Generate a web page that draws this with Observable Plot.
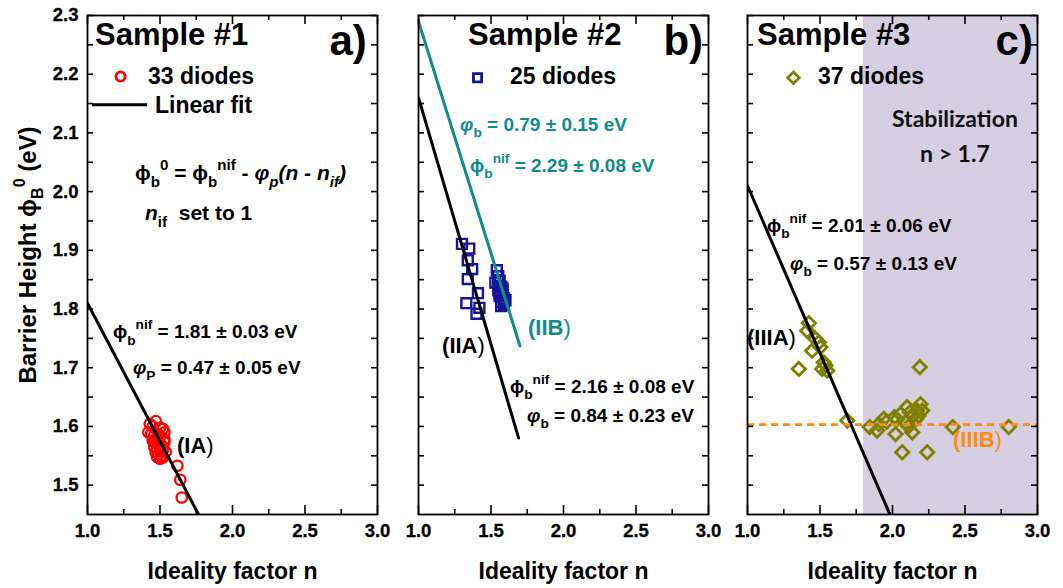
<!DOCTYPE html>
<html><head><meta charset="utf-8">
<script src="https://cdn.jsdelivr.net/npm/d3@7"></script>
<script src="https://cdn.jsdelivr.net/npm/@observablehq/plot@0.6"></script>
<style>
body{margin:0;background:#fff;}
#chart{position:relative;width:1063px;height:588px;overflow:hidden;}
#chart svg{position:absolute;left:0;top:0;overflow:visible;}
</style></head><body><div id="chart"></div>
<script>
const FONT = "'Liberation Sans', Arial, Helvetica, sans-serif";
const CAL = "Lato, 'Open Sans', sans-serif";

// ---- data ----
const xMajor = [1.0, 1.5, 2.0, 2.5, 3.0];
const xMinor = [1.25, 1.75, 2.25, 2.75];
const yMajor = [1.5, 1.6, 1.7, 1.8, 1.9, 2.0, 2.1, 2.2, 2.3];
const yMinor = [1.55, 1.65, 1.75, 1.85, 1.95, 2.05, 2.15, 2.25];
const xDomain = [1.0, 3.0];
const yDomain = [1.45, 2.3];

// Sample #1 (33 diodes)
const s1N = [1.43,1.45,1.47,1.50,1.52, 1.42,1.44,1.46,1.48,1.50, 1.53,1.45,1.47,1.49,1.51, 1.53,1.46,1.48,1.50,1.52, 1.47,1.49,1.51,1.54,1.48, 1.50,1.52,1.46,1.49,1.53, 1.62,1.64,1.65];
const s1Phi = [1.604,1.600,1.609,1.598,1.596, 1.590,1.587,1.584,1.580,1.582, 1.578,1.575,1.572,1.570,1.568, 1.573,1.565,1.562,1.558,1.560, 1.556,1.553,1.550,1.557,1.548, 1.545,1.547,1.576,1.586,1.590, 1.533,1.509,1.479];

// Sample #2 (25 diodes)
const s2N = [1.30,1.35,1.34,1.37,1.34,1.41,1.33,1.42,1.40, 1.54,1.55,1.53,1.56,1.57,1.55,1.58,1.56,1.59,1.57,1.55,1.58,1.56,1.60,1.57,1.59];
const s2Phi = [1.911,1.903,1.883,1.868,1.851,1.827,1.810,1.802,1.792, 1.866,1.856,1.845,1.848,1.838,1.832,1.828,1.822,1.818,1.812,1.840,1.835,1.826,1.815,1.805,1.808];

// Sample #3 (37 diodes)
const s3N = [1.423,1.412,1.469,1.492,1.446,1.503,1.526,1.538,1.550,1.515,1.354, 1.688,
  1.843,1.894,1.906,1.940,2.014,2.021,2.055,2.101,2.090,2.136,2.147,2.170,2.193,2.205,2.188,2.067,2.239,2.416,2.802, 2.03,2.11,2.16,2.18,1.96,2.12];
const s3Phi = [1.776,1.763,1.749,1.743,1.729,1.735,1.709,1.704,1.695,1.698,1.698, 1.610,
  1.599,1.593,1.604,1.613,1.616,1.587,1.621,1.633,1.607,1.590,1.619,1.627,1.638,1.627,1.701,1.556,1.556,1.599,1.599, 1.612,1.600,1.612,1.618,1.608,1.624];

// Linear fits  phi = phiNif - slope*(n - 1)
const fitNames   = ["IA", "IIA", "IIB", "IIIA"];
const fitPhiNif  = [1.81, 2.16, 2.29, 2.01];
const fitSlope   = [0.47, 0.84, 0.79, 0.57];
const fitNEnd    = [1.80, 1.69, 1.70, 2.00];
const plateauIIIB = 1.603;        // (IIIB) level
const stabilizationStart = 1.8;   // shaded region start

function fitLine(i) {
  return [1.0, fitNEnd[i]].map(n => ({n, phi: fitPhiNif[i] - fitSlope[i] * (n - 1)}));
}

// ---- layout ----
const W = 1063, H = 588, TOP = 15, BOTTOM = 514;
const IH = BOTTOM - TOP;
const fmt = d3.format(".1f");

function baseMarks(left, right, withY) {
  const IW = right - left;
  const m = [
    Plot.tickX(xMajor, {x: d => d, insetTop: IH - 9, strokeWidth: 1.6}),
    Plot.tickX(xMinor, {x: d => d, insetTop: IH - 5, strokeWidth: 1.6}),
    Plot.tickX(xMajor, {x: d => d, insetBottom: IH - 9, strokeWidth: 1.6}),
    Plot.tickX(xMinor, {x: d => d, insetBottom: IH - 5, strokeWidth: 1.6}),
    Plot.tickY(yMajor.concat(yMinor), {y: d => d, insetRight: IW - 6, strokeWidth: 1.6}),
    Plot.tickY(yMajor.concat(yMinor), {y: d => d, insetLeft: IW - 6, strokeWidth: 1.6}),
    Plot.text(xMajor, {x: d => d, text: d => fmt(d), frameAnchor: "bottom", dy: 9, lineAnchor: "top", fontSize: 18.5, fontWeight: "bold", fill: "black", stroke: "black", strokeWidth: 0.3}),
    Plot.text(["Ideality factor n"], {text: d => d, frameAnchor: "bottom", dy: 64, lineAnchor: "bottom", fontSize: 23, fontWeight: "bold", fill: "black"}),
    Plot.frame({stroke: "black", strokeWidth: 1.8})
  ];
  if (withY) m.push(Plot.text(yMajor, {y: d => d, text: d => fmt(d), frameAnchor: "left", dx: -9, textAnchor: "end", lineAnchor: "middle", fontSize: 18.5, fontWeight: "bold", fill: "black", stroke: "black", strokeWidth: 0.3}));
  return m;
}

function panel(left, right, marks, withY) {
  return Plot.plot({
    width: W, height: H,
    marginLeft: left, marginRight: W - right, marginTop: TOP, marginBottom: H - BOTTOM,
    x: {domain: xDomain, axis: null},
    y: {domain: yDomain, axis: null},
    style: {fontFamily: FONT, background: "transparent", overflow: "visible", color: "black"},
    marks: [...marks, ...baseMarks(left, right, withY)]
  });
}

function rich(plot, n, v, parts, opt = {}) {
  const {size = 19, color = "black", anchor = "start", family = FONT, weight = "bold"} = opt;
  const sx = plot.scale("x").apply, sy = plot.scale("y").apply;
  const t = d3.select(plot).append("text")
    .attr("x", sx(n)).attr("y", sy(v)).attr("fill", color).attr("font-size", size)
    .attr("font-family", family).attr("font-weight", weight).attr("text-anchor", anchor);
  let off = 0;
  for (const [str, kind = ""] of parts) {
    const ts = t.append("tspan").text(str);
    let target = 0;
    if (kind.includes("sub")) { target = 0.32 * size; ts.attr("font-size", 0.72 * size); }
    if (kind.includes("sup")) { target = -0.48 * size; ts.attr("font-size", 0.72 * size); }
    if (kind.includes("it")) ts.attr("font-style", "italic");
    if (kind.includes("thin")) ts.attr("font-weight", "normal");
    if (target !== off) { ts.attr("dy", target - off); off = target; }
  }
  return t;
}

const chart = document.getElementById("chart");
const RED = "#ff0000", NAVY = "#15159a", TEAL = "#0e8c8a", OLIVE = "#808000", ORANGE = "#ff8a16";

// ---- Panel a ----
const pA = panel(87, 377, [
  Plot.dot({length: s1N.length}, {x: s1N, y: s1Phi, r: 5.2, stroke: RED, strokeWidth: 2.3}),
  Plot.line(fitLine(0), {x: "n", y: "phi", stroke: "black", strokeWidth: 3, clip: true}),
  Plot.dot([{n: 1.228, phi: 2.196}], {x: "n", y: "phi", r: 4.6, stroke: RED, strokeWidth: 2.8}),
  Plot.ruleY([2.148], {x1: 1.034, x2: 1.414, strokeWidth: 3})
], true);
chart.appendChild(pA);
rich(pA, 1.055, 2.249, [["Sample #1"]], {size: 31});
rich(pA, 2.93, 2.232, [["a)"]], {size: 42, anchor: "end"});
rich(pA, 1.421, 2.182, [["33 diodes"]], {size: 23});
rich(pA, 1.469, 2.133, [["Linear fit"]], {size: 23});
rich(pA, 1.331, 2.019, [["ϕ"], ["b", "sub"], ["0", "sup"], [" = ϕ"], ["b", "sub"], ["nif", "sup"], [" - "], ["φ", "it"], ["p", "sub it"], ["(n - n", "it"], ["if", "sub it"], [")", "it"]], {size: 21});
rich(pA, 1.40, 1.950, [["n", "it"], ["if", "sub"], ["  set to 1"]], {size: 21});
rich(pA, 1.179, 1.749, [["ϕ"], ["b", "sub"], ["nif", "sup"], [" = 1.81 ± 0.03 eV"]], {size: 19});
rich(pA, 1.317, 1.688, [["φ", "it"], ["P", "sub"], [" = 0.47 ± 0.05 eV"]], {size: 19});
rich(pA, 1.621, 1.554, [["(IA"], [")", "thin"]], {size: 22});
// y-axis title
{
  const t = d3.select(pA).append("text")
    .attr("transform", "translate(36,255) rotate(-90)")
    .attr("text-anchor", "middle").attr("font-family", FONT).attr("font-weight", "bold").attr("font-size", 24).attr("fill", "black");
  t.append("tspan").text("Barrier Height ϕ");
  t.append("tspan").text("B").attr("font-size", 16).attr("dy", 7);
  t.append("tspan").text("0").attr("font-size", 16).attr("dy", -18);
  t.append("tspan").text(" (eV)").attr("dy", 11);
}

// ---- Panel b ----
const pB = panel(418, 708, [
  Plot.dot({length: s2N.length}, {x: s2N, y: s2Phi, symbol: "square", r: 5.6, stroke: NAVY, strokeWidth: 2.4}),
  Plot.line(fitLine(1), {x: "n", y: "phi", stroke: "black", strokeWidth: 3, clip: true}),
  Plot.line(fitLine(2), {x: "n", y: "phi", stroke: TEAL, strokeWidth: 3, clip: true}),
  Plot.dot([{n: 1.407, phi: 2.194}], {x: "n", y: "phi", symbol: "square", r: 4.6, stroke: NAVY, strokeWidth: 2.8})
], false);
chart.appendChild(pB);
rich(pB, 1.345, 2.249, [["Sample #2"]], {size: 31});
rich(pB, 2.966, 2.232, [["b)"]], {size: 42, anchor: "end"});
rich(pB, 1.634, 2.182, [["25 diodes"]], {size: 23});
rich(pB, 1.29, 2.102, [["φ", "it"], ["b", "sub"], [" = 0.79 ± 0.15 eV"]], {size: 19, color: TEAL});
rich(pB, 1.359, 2.033, [["ϕ"], ["b", "sub"], ["nif", "sup"], [" = 2.29 ± 0.08 eV"]], {size: 19, color: TEAL});
rich(pB, 1.759, 1.755, [["(IIB"], [")", "thin"]], {size: 22, color: TEAL});
rich(pB, 1.166, 1.724, [["(IIA"], [")", "thin"]], {size: 22});
rich(pB, 1.634, 1.656, [["ϕ"], ["b", "sub"], ["nif", "sup"], [" = 2.16 ± 0.08 eV"]], {size: 19});
rich(pB, 1.752, 1.607, [["φ", "it"], ["b", "sub"], [" = 0.84 ± 0.23 eV"]], {size: 19});

// ---- Panel c ----
const pC = panel(747, 1037, [
  Plot.rect([{x1: stabilizationStart, x2: 3.0}], {x1: "x1", x2: "x2", fill: "#d6cfe2"}),
  Plot.dot({length: s3N.length}, {x: s3N, y: s3Phi, symbol: "diamond2", r: 6.0, stroke: OLIVE, strokeWidth: 2.8}),
  Plot.line(fitLine(3), {x: "n", y: "phi", stroke: "black", strokeWidth: 3, clip: true}),
  Plot.ruleY([plateauIIIB], {x1: 1.0, x2: 3.0, stroke: ORANGE, strokeWidth: 2.8, strokeDasharray: "7,5"}),
  Plot.dot([{n: 1.317, phi: 2.194}], {x: "n", y: "phi", symbol: "diamond2", r: 5.2, stroke: OLIVE, strokeWidth: 2.8})
], false);
chart.appendChild(pC);
rich(pC, 1.069, 2.249, [["Sample #3"]], {size: 31});
rich(pC, 2.972, 2.232, [["c)"]], {size: 42, anchor: "end"});
rich(pC, 1.49, 2.182, [["37 diodes"]], {size: 23});
rich(pC, 2.434, 2.109, [["Stabilization"]], {size: 23, anchor: "middle", family: CAL, color: "#111"});
rich(pC, 2.434, 2.050, [["n > 1.7"]], {size: 23, anchor: "middle", family: CAL, color: "#111"});
rich(pC, 1.138, 1.930, [["ϕ"], ["b", "sub"], ["nif", "sup"], [" = 2.01 ± 0.06 eV"]], {size: 19});
rich(pC, 1.297, 1.866, [["φ", "it"], ["b", "sub"], [" = 0.57 ± 0.13 eV"]], {size: 19});
rich(pC, 1.0, 1.738, [["(IIIA"], [")", "thin"]], {size: 22});
rich(pC, 2.421, 1.564, [["(IIIB"], [")", "thin"]], {size: 22, color: ORANGE});
</script></body></html>
